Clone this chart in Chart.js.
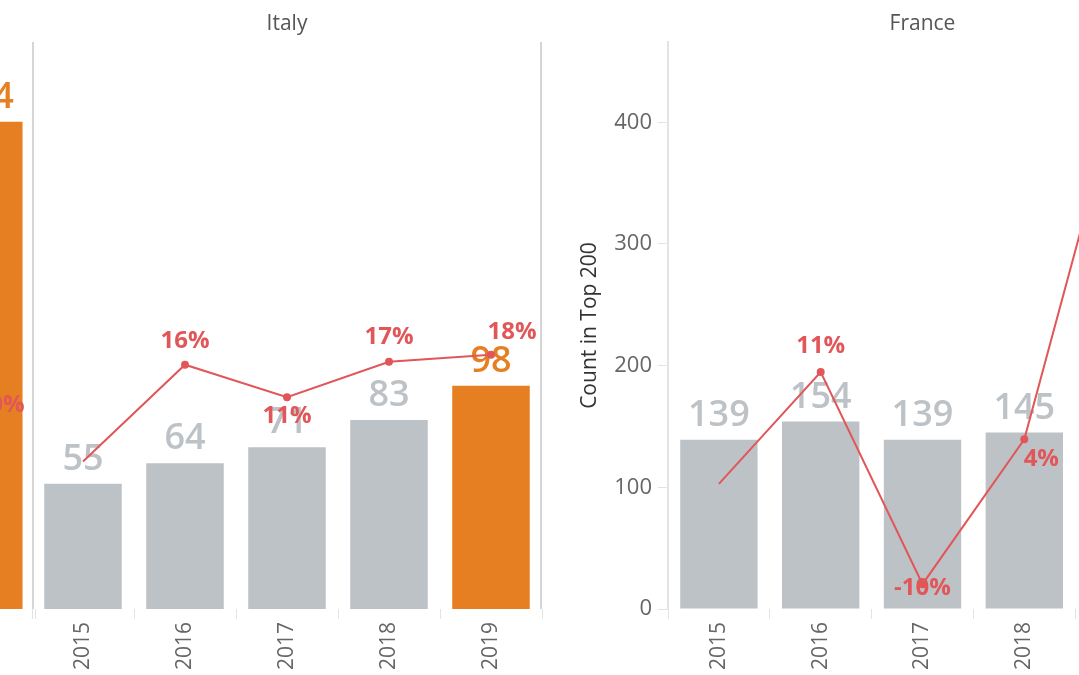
<!DOCTYPE html>
<html>
<head>
<meta charset="utf-8">
<script src="https://cdn.jsdelivr.net/npm/chart.js@4.4.1/dist/chart.umd.min.js"></script>
<style>
    html, body { margin: 0; padding: 0; background: #fff; overflow: hidden; width: 1079px; height: 675px; }
    canvas { position: absolute; top: 0; }
</style>
</head>
<body>
<canvas id="left" width="112" height="675" style="left:-73px"></canvas>
<canvas id="italy" width="518" height="675" style="left:28px"></canvas>
<canvas id="france" width="640" height="675" style="left:541px"></canvas>
<script>
// data
const years = ['2015', '2016', '2017', '2018', '2019'];
const leftYears = ['2019'];
const leftCounts = [214];
const leftGrowth = [10];
const italyCounts = [55, 64, 71, 83, 98];
const italyGrowth = [0, 16.4, 10.9, 16.9, 18.1];
const franceCounts = [139, 154, 139, 145, 204];
const franceGrowth = [0, 10.8, -9.7, 4.3, 40.7];
const franceTicks = [0, 100, 200, 300, 400];
const highlightYear = '2019';

const GRAY = '#bdc2c6';
const ORANGE = '#e67e22';
const RED = '#e15759';

Chart.defaults.font.family = '"Open Sans", sans-serif';

// value labels over bars, growth labels next to the line points, panel borders
const panelLabels = {
    id: 'panelLabels',
    afterDatasetDraw(chart, args) {
        if (args.index !== 0) return;
        const ctx = chart.ctx;
        const ds = chart.data.datasets[0];
        ctx.save();
        ctx.font = '600 36px "Open Sans"';
        ctx.textAlign = 'center';
        ctx.textBaseline = 'alphabetic';
        args.meta.data.forEach((bar, i) => {
            ctx.fillStyle = chart.data.labels[i] === highlightYear ? ORANGE : GRAY;
            ctx.fillText(String(ds.data[i]), bar.x, bar.y - 14);
        });
        ctx.restore();
    },
    afterDatasetsDraw(chart, args, opts) {
        const ctx = chart.ctx;
        const ds = chart.data.datasets[1];
        const meta = chart.getDatasetMeta(1);
        ctx.save();
        ctx.font = 'bold 24px "Open Sans"';
        ctx.textAlign = 'center';
        ctx.textBaseline = 'middle';
        ctx.fillStyle = RED;
        meta.data.forEach((pt, i) => {
            const off = opts.offsets[i];
            if (!off) return;
            ctx.fillText(Math.round(ds.data[i]) + '%', pt.x + off[0], pt.y + off[1]);
        });
        if (opts.borders) {
            const a = chart.chartArea;
            ctx.strokeStyle = '#d6d6d6';
            ctx.lineWidth = 2;
            ctx.beginPath();
            ctx.moveTo(a.left + 1, a.top);
            ctx.lineTo(a.left + 1, a.bottom);
            ctx.moveTo(a.right - 1, a.top);
            ctx.lineTo(a.right - 1, a.bottom);
            ctx.stroke();
        }
        ctx.restore();
    }
};

function makePanel(id, cfg) {
    const showAxis = !!cfg.axis;
    const yAxis = {
        display: showAxis,
        position: 'left',
        min: 0,
        max: cfg.max
    };
    if (showAxis) {
        Object.assign(yAxis, {
            afterBuildTicks(s) { s.ticks = franceTicks.map(v => ({ value: v })); },
            afterFit(s) { s.width = 127; },
            ticks: { color: '#666', font: { size: 22 }, padding: 6 },
            grid: { drawOnChartArea: false, tickLength: 10, color: '#e3e3e3' },
            border: { display: true, color: '#e3e3e3', width: 2 },
            title: { display: true, text: 'Count in Top 200', color: '#333', font: { size: 21 }, padding: { top: 36 } }
        });
    }
    return new Chart(document.getElementById(id), {
        type: 'bar',
        data: {
            labels: cfg.labels,
            datasets: [{
                type: 'bar',
                data: cfg.counts,
                backgroundColor: cfg.labels.map(y => y === highlightYear ? ORANGE : GRAY),
                barPercentage: 0.76,
                categoryPercentage: 1.0,
                yAxisID: 'y',
                order: 2
            }, {
                type: 'line',
                data: cfg.growth,
                yAxisID: 'y1',
                borderColor: RED,
                borderWidth: 2,
                backgroundColor: RED,
                pointRadius: ctx => ctx.dataIndex === 0 && cfg.labels.length > 1 ? 0 : 4,
                pointBorderWidth: 0,
                pointBackgroundColor: RED,
                tension: 0,
                order: 1
            }]
        },
        options: {
            responsive: false,
            animation: false,
            layout: { padding: { top: cfg.title ? 0 : 42 } },
            plugins: {
                legend: { display: false },
                tooltip: { enabled: false },
                title: {
                    display: !!cfg.title,
                    text: cfg.title,
                    fullSize: false,
                    color: '#555',
                    font: { size: 21, weight: 'normal' },
                    padding: { top: 11.4, bottom: 5.4 }
                },
                panelLabels: { offsets: cfg.offsets, borders: !!cfg.borders }
            },
            scales: {
                x: {
                    ticks: { minRotation: 90, maxRotation: 90, padding: 3, color: '#666', font: { size: 21 } },
                    grid: { drawOnChartArea: false, tickLength: 10, color: '#e3e3e3', offset: true },
                    border: { display: false },
                    afterFit(s) { s.height = 66; }
                },
                y: yAxis,
                y1: { display: false, min: cfg.pctMin, max: cfg.pctMax }
            }
        },
        plugins: [panelLabels]
    });
}

makePanel('left', {
    labels: leftYears, counts: leftCounts, growth: leftGrowth,
    max: 249, pctMin: -25, pctMax: 71.1,
    offsets: [[17, 3]]
});

makePanel('italy', {
    title: 'Italy', labels: years, counts: italyCounts, growth: italyGrowth,
    max: 249, pctMin: -25, pctMax: 71.1, borders: true,
    offsets: [null, [0, -24], [0, 19], [0, -25], [21, -23]]
});

makePanel('france', {
    title: 'France', labels: years, counts: franceCounts, growth: franceGrowth,
    max: 466, pctMin: -12.1, pctMax: 42.7, axis: true,
    offsets: [null, [0, -26], [0, 4], [17, 20], [0, -24]]
});
</script>
</body>
</html>
